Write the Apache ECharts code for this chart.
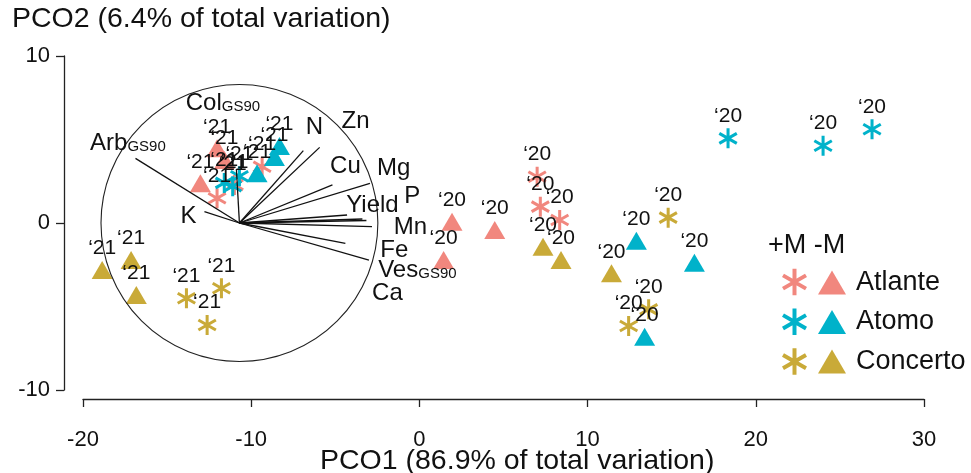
<!DOCTYPE html>
<html>
<head>
<meta charset="utf-8">
<script src="https://cdn.jsdelivr.net/npm/echarts/dist/echarts.min.js"></script>
<style>
html,body{margin:0;padding:0;background:#fff;}
#chart{width:971px;height:473px;}
</style>
</head>
<body>
<div id="chart"></div>
<script>
// ---- Data (PCO1, PCO2, year label) ----
const atlantePlus   = [[-12.03, 1.48, '21'], [-11.0, 2.28, '21'], [-9.35, 3.37, '21'], [7.0, 2.77, '20'], [7.19, 0.98, '20'], [8.34, 0.18, '20']];
const atlanteMinus  = [[-13.02, 2.38, '21'], [-12.03, 4.47, '21'], [-11.59, 3.77, '21'], [1.94, 0.08, '20'], [4.48, -0.42, '20'], [1.44, -2.22, '20']];
const atomoPlus     = [[-11.6, 2.4, '21'], [-10.7, 2.8, '21'], [-11.1, 2.2, '21'], [18.35, 5.07, '20'], [24.0, 4.63, '20'], [26.91, 5.61, '20']];
const atomoMinus    = [[-8.32, 4.61, '21'], [-8.62, 3.95, '21'], [-9.65, 2.98, '21'], [12.9, -1.06, '20'], [16.35, -2.38, '20'], [13.39, -6.81, '20']];
const concertoPlus  = [[-13.85, -4.51, '21'], [-11.77, -3.91, '21'], [-12.62, -6.11, '21'], [14.79, 0.32, '20'], [13.63, -5.17, '20'], [12.44, -6.17, '20']];
const concertoMinus = [[-18.86, -2.81, '21'], [-17.14, -2.22, '21'], [-16.83, -4.31, '21'], [7.35, -1.42, '20'], [8.42, -2.22, '20'], [11.42, -3.01, '20']];

// Biplot vectors (origin, end points, labels)
const vectorOrigin = [-10.7, 0.0];
const circleRadius = 8.23;
const vectorNames = ['Arb', 'K', 'Col', 'N', 'Zn', 'Cu', 'Mg', 'Yield', 'P', 'Mn', 'Fe', 'Ves', 'Ca'];
const vectorSubs  = ['GS90', '', 'GS90', '', '', '', '', '', '', '', '', 'GS90', ''];
const vectorEndX  = [-16.88, -12.78, -10.88, -6.90, -5.93, -5.17, -2.94, -4.30, -3.39, -3.15, -2.82, -4.40, -3.00];
const vectorEndY  = [3.87, 0.68, 3.23, 4.33, 4.53, 2.28, 2.37, 0.48, 0.24, 0.15, -0.22, -1.22, -2.22];
const vectorLabelX = [-17.33, -13.73, -11.68, -6.24, -3.80, -4.40, -1.53, -2.79, -0.43, -0.54, -1.49, -0.12, -1.90];
const vectorLabelY = [4.77, 0.42, 7.17, 5.73, 6.07, 3.37, 3.27, 1.08, 1.58, -0.24, -1.62, -2.81, -4.19];

const xTicks = {min: -20, max: 30, interval: 10};
const yTicks = {min: -10, max: 10, interval: 10};
const xTitle = 'PCO1 (86.9% of total variation)';
const yTitle = 'PCO2 (6.4% of total variation)';

// ---- Styles ----
const FONT = '"Liberation Sans", Arial, Helvetica, sans-serif';
const colors = {Atlante: '#F1877E', Atomo: '#00B2CA', Concerto: '#C9AA38'};
const ASTERISK = 'path://M42.5 0 L57.5 0 L57.5 100 L42.5 100 Z M2.95 31.5 L10.45 18.5 L97.05 68.5 L89.55 81.5 Z M10.45 81.5 L2.95 68.5 L89.55 18.5 L97.05 31.5 Z';

function pointSeries(name, data, color, isPlus) {
  return {
    name: name,
    type: 'scatter',
    data: data.map(d => ({value: [d[0], d[1]], yr: d[2]})),
    symbol: isPlus ? ASTERISK : 'triangle',
    symbolSize: isPlus ? [19, 20] : [21, 18],
    itemStyle: {color: color, opacity: 1},
    label: {
      show: true, position: 'top', distance: 2,
      formatter: p => '\u2018' + p.data.yr,
      fontFamily: FONT, fontSize: 21, color: '#111'
    },
    emphasis: {disabled: true},
    z: 2
  };
}

const chart = echarts.init(document.getElementById('chart'), null, {renderer: 'canvas'});

const vectorData = vectorNames.map((n, i) => [vectorEndX[i], vectorEndY[i]]);
const vectorLabelData = vectorNames.map((n, i) => ({value: [vectorLabelX[i], vectorLabelY[i]], name: n, sub: vectorSubs[i]}));

const option = {
  animation: false,
  backgroundColor: '#fff',
  grid: {left: 83, right: 47, top: 56, bottom: 83, containLabel: false, outerBoundsMode: 'none'},
  xAxis: {
    type: 'value', min: xTicks.min, max: xTicks.max, interval: xTicks.interval,
    offset: 9,
    splitLine: {show: false},
    axisLine: {show: true, onZero: false, lineStyle: {color: '#222', width: 1.3}},
    axisTick: {show: true, inside: false, length: 8, lineStyle: {color: '#222', width: 1.3}},
    axisLabel: {fontFamily: FONT, fontSize: 22, color: '#111', margin: 30}
  },
  yAxis: {
    type: 'value', min: yTicks.min, max: yTicks.max, interval: yTicks.interval,
    offset: 19,
    splitLine: {show: false},
    axisLine: {show: true, onZero: false, lineStyle: {color: '#222', width: 1.3}},
    axisTick: {show: true, inside: false, length: 8, lineStyle: {color: '#222', width: 1.3}},
    axisLabel: {fontFamily: FONT, fontSize: 22, color: '#111', margin: 14}
  },
  legend: [
    {
      data: ['Atlante +M', 'Atomo +M', 'Concerto +M'].map(n => ({name: n, icon: ASTERISK})),
      orient: 'vertical', left: 782, top: 268, padding: 0,
      itemWidth: 25, itemHeight: 28, itemGap: 12.5,
      formatter: () => '', textStyle: {fontSize: 1},
      selectedMode: false
    },
    {
      data: ['Atlante -M', 'Atomo -M', 'Concerto -M'].map(n => ({name: n, icon: 'triangle'})),
      orient: 'vertical', left: 818, top: 269, padding: 0,
      itemWidth: 28, itemHeight: 24, itemGap: 12.5,
      formatter: n => n.split(' ')[0],
      textStyle: {fontFamily: FONT, fontSize: 27, color: '#111', padding: [0, 0, 0, 5]},
      selectedMode: false
    }
  ],
  graphic: [
    {type: 'text', left: 12, top: 5, style: {text: yTitle, font: '28.5px ' + FONT, fill: '#111'}},
    {type: 'text', left: 320, top: 447, style: {text: xTitle, font: '28.5px ' + FONT, fill: '#111'}},
    {type: 'text', left: 768, top: 232, style: {text: '+M -M', font: '27px ' + FONT, fill: '#111'}}
  ],
  series: [
    pointSeries('Atlante +M', atlantePlus, colors.Atlante, true),
    pointSeries('Atlante -M', atlanteMinus, colors.Atlante, false),
    pointSeries('Atomo +M', atomoPlus, colors.Atomo, true),
    pointSeries('Atomo -M', atomoMinus, colors.Atomo, false),
    pointSeries('Concerto +M', concertoPlus, colors.Concerto, true),
    pointSeries('Concerto -M', concertoMinus, colors.Concerto, false),
    {
      type: 'custom', name: 'circle', data: [vectorOrigin],
      encode: {x: 0, y: 1}, z: 3, silent: true,
      renderItem: (params, api) => {
        const c = api.coord([api.value(0), api.value(1)]);
        const r = api.size([circleRadius, 0])[0];
        return {type: 'circle', shape: {cx: c[0], cy: c[1], r: r},
                style: {fill: 'none', stroke: '#222', lineWidth: 1.1}};
      }
    },
    {
      type: 'custom', name: 'vectors', data: vectorData,
      encode: {x: 0, y: 1}, z: 3, silent: true,
      renderItem: (params, api) => {
        const s = api.coord(vectorOrigin);
        const e = api.coord([api.value(0), api.value(1)]);
        return {type: 'line', shape: {x1: s[0], y1: s[1], x2: e[0], y2: e[1]},
                style: {stroke: '#111', lineWidth: 1.3}};
      }
    },
    {
      type: 'scatter', name: 'vectorLabels', data: vectorLabelData,
      symbolSize: 1, itemStyle: {color: 'rgba(0,0,0,0)'}, z: 4, silent: true,
      label: {
        show: true, position: 'inside', color: '#111', textBorderWidth: 0, opacity: 1,
        formatter: p => '{m|' + p.data.name + '}' + (p.data.sub ? '{s|' + p.data.sub + '}' : ''),
        rich: {
          m: {fontFamily: FONT, fontSize: 24, color: '#111', textBorderWidth: 0, verticalAlign: 'bottom'},
          s: {fontFamily: FONT, fontSize: 15, color: '#111', textBorderWidth: 0, verticalAlign: 'bottom', padding: [0, 0, 1, 0]}
        }
      }
    }
  ]
};
chart.setOption(option);
</script>
</body>
</html>
